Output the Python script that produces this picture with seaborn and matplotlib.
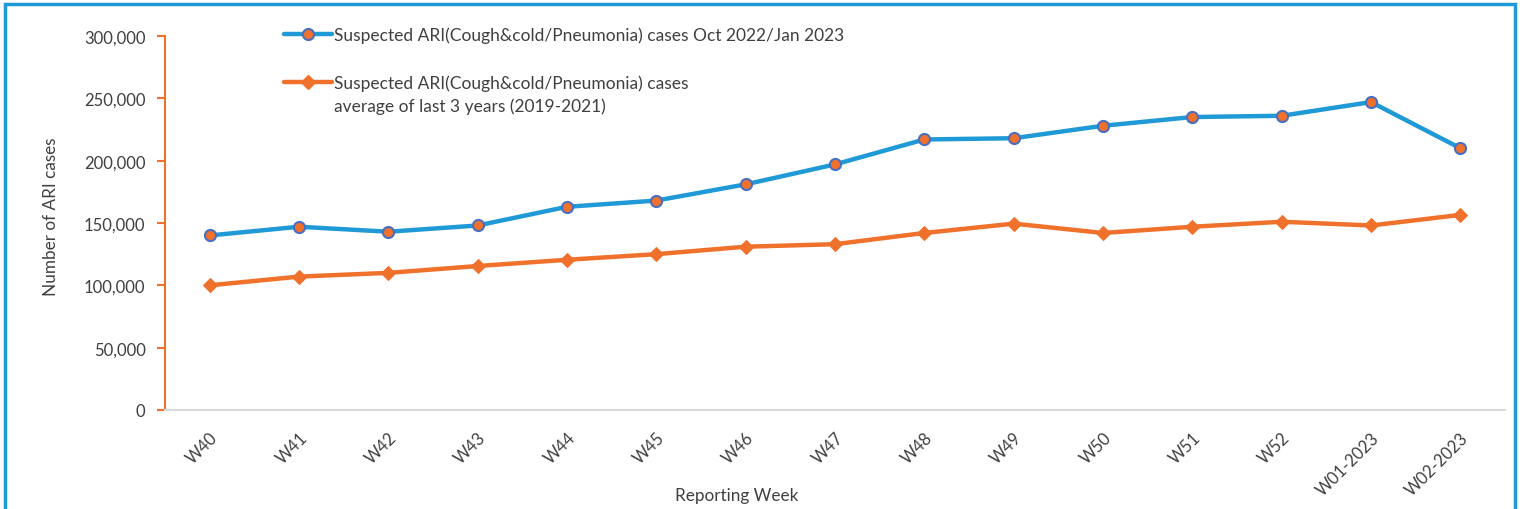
import matplotlib
matplotlib.use("Agg")
import matplotlib.pyplot as plt
import seaborn as sns
import pandas as pd
from matplotlib.lines import Line2D
from matplotlib.patches import Rectangle

weeks = ["W40", "W41", "W42", "W43", "W44", "W45", "W46", "W47", "W48", "W49",
         "W50", "W51", "W52", "W01-2023", "W02-2023"]
cases_2022 = [140000, 147000, 143000, 148000, 163000, 168000, 181000, 197000,
              217000, 218000, 228000, 235000, 236000, 247000, 210000]
cases_avg = [100000, 107000, 110000, 115500, 120500, 125000, 131000, 133000,
             142000, 149500, 142000, 147000, 151000, 148000, 156500]
label_2022 = "Suspected ARI(Cough&cold/Pneumonia) cases Oct 2022/Jan 2023"
label_avg = "Suspected ARI(Cough&cold/Pneumonia) cases"
label_avg_2 = "average of last 3 years (2019-2021)"
y_ticks = [0, 50000, 100000, 150000, 200000, 250000, 300000]

sns.set_theme(style="white")
plt.rcParams['font.family'] = ['Lato', 'DejaVu Sans']

BLUE = "#1f9ad6"
ORANGE = "#f0712c"
EDGE = "#4a6fc0"
TXT = "#404040"

df = pd.DataFrame({"week": weeks, "cur": cases_2022, "avg": cases_avg})

fig = plt.figure(figsize=(15.2, 5.1), dpi=100)
ax = fig.add_axes([165/1520, 99/510, 1340/1520, 374/510])

sns.lineplot(data=df, x="week", y="cur", ax=ax, sort=False, color=BLUE, lw=3.2,
             marker="o", markersize=8, markerfacecolor=ORANGE, markeredgecolor=EDGE,
             markeredgewidth=1.5)
sns.lineplot(data=df, x="week", y="avg", ax=ax, sort=False, color=ORANGE, lw=3.2,
             marker="D", markersize=7.5, markerfacecolor=ORANGE, markeredgecolor=ORANGE)

ax.set_xlim(-0.5, len(weeks) - 0.5)
ax.set_ylim(0, 300000)
ax.set_yticks(y_ticks)
ax.set_yticklabels([f"{v:,}" for v in y_ticks])
ax.set_xticks(range(len(weeks)))
ax.set_xticklabels(weeks, rotation=45, ha="right", rotation_mode="anchor")

for s in ["top", "right"]:
    ax.spines[s].set_visible(False)
ax.spines["left"].set_color(ORANGE)
ax.spines["left"].set_linewidth(1.5)
ax.spines["bottom"].set_color("#d9d9d9")
ax.spines["bottom"].set_linewidth(1.5)

ax.tick_params(axis="y", which="both", left=True, length=6, width=1.5, color=ORANGE,
               labelsize=12, labelcolor=TXT, pad=8)
ax.tick_params(axis="x", bottom=False, labelsize=12, labelcolor=TXT, pad=8)

ax.set_xlabel("Reporting Week", fontsize=12.3, color=TXT)
ax.xaxis.set_label_coords((737 - 165) / 1340, -0.205)
ax.set_ylabel("Number of ARI cases", fontsize=12.3, color=TXT)
ax.yaxis.set_label_coords(-0.079, 0.519)

handles = [
    Line2D([], [], color=BLUE, lw=3.2, marker="o", markersize=8, markerfacecolor=ORANGE,
           markeredgecolor=EDGE, markeredgewidth=1.5),
    Line2D([], [], color=ORANGE, lw=3.2, marker="D", markersize=7.5,
           markerfacecolor=ORANGE, markeredgecolor=ORANGE),
]
leg = fig.legend(handles, [label_2022, label_avg], loc="upper left",
                 bbox_to_anchor=(268/1520, 1 - 12/510), frameon=False, fontsize=12.5,
                 handlelength=2.76, handletextpad=0.17, labelspacing=1.8,
                 labelcolor=TXT, borderpad=0.4)
fig.text(334/1520, 1 - 107/510, label_avg_2, fontsize=12.5, color=TXT,
         ha="left", va="center")

fig.patches.append(Rectangle((5/1520, -0.05), 1510/1520, 1.05 - 5/510, transform=fig.transFigure,
                             fill=False, edgecolor=BLUE, lw=2.5))

fig.savefig("out.png", dpi=100)
